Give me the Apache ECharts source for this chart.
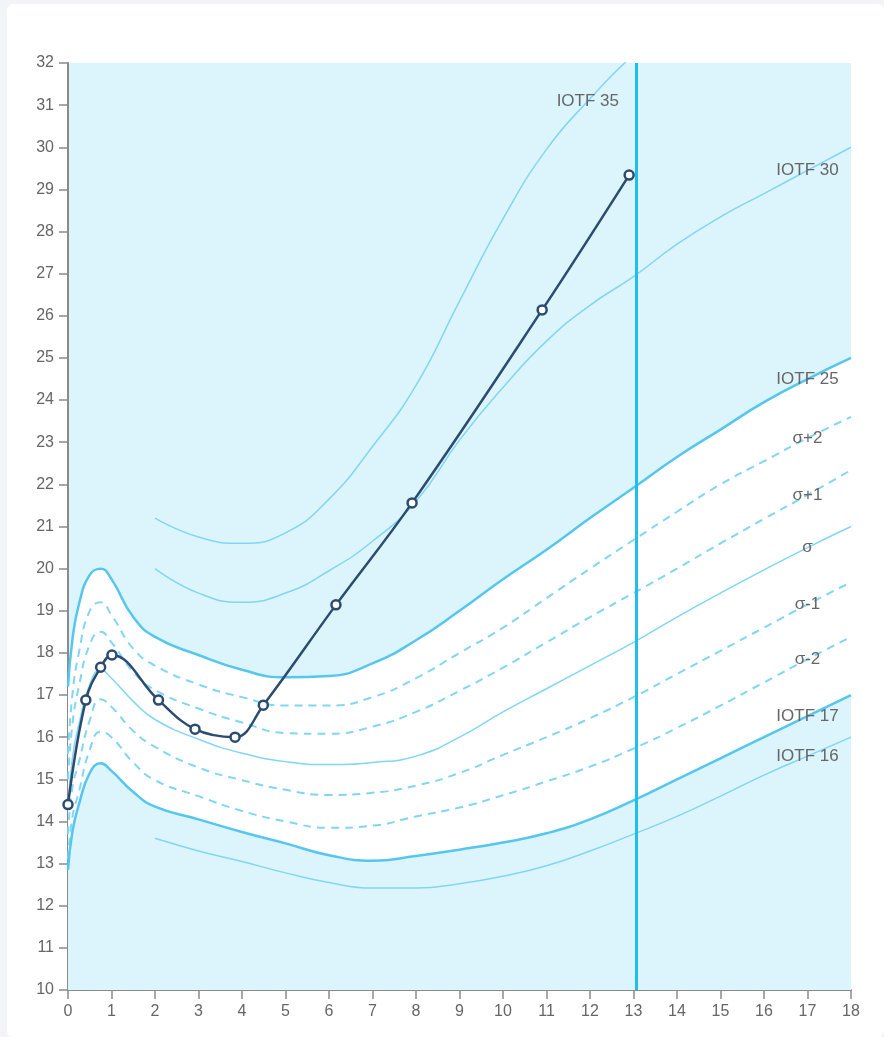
<!DOCTYPE html>
<html>
<head>
<meta charset="utf-8">
<title>IMC</title>
<script src="https://cdn.jsdelivr.net/npm/echarts@6/dist/echarts.min.js"></script>
<style>
  html, body { margin: 0; padding: 0; background: #f2f4f7; }
  .card { position: absolute; left: 7px; top: 4px; right: 0; bottom: 0; background: #fff; border-radius: 6px; }
  #chart { position: absolute; left: 0; top: 0; width: 884px; height: 1037px; }
</style>
</head>
<body>
<div class="card"></div>
<div id="chart"></div>
<script>
// ages (years) used by the reference curves
const fullAges = [0, 0.1, 0.25, 0.5, 0.75, 1, 1.5, 2, 3, 4, 5, 6, 7, 8, 9, 10, 11, 12, 13, 14, 15, 16, 17, 18];
const iotfAges = [2, 3, 4, 5, 6, 7, 8, 9, 10, 11, 12, 13, 14, 15, 16, 17, 18];

// IOTF cut-offs
const iotf35 = [21.2, 20.75, 20.6, 20.85, 21.65, 22.9, 24.35, 26.35, 28.3, 29.95, 31.15, 32.2, 33.1, 33.8, 34.35, 34.75, 35.0];
const iotf30 = [20.0, 19.42, 19.2, 19.42, 19.95, 20.65, 21.6, 23.05, 24.3, 25.4, 26.25, 26.93, 27.7, 28.35, 28.9, 29.45, 30.0];
const iotf25 = [17.2, 18.3, 19.15, 19.85, 20.0, 19.75, 18.85, 18.38, 17.95, 17.6, 17.42, 17.45, 17.75, 18.3, 19.0, 19.75, 20.45, 21.2, 21.92, 22.65, 23.3, 23.95, 24.5, 25.0];
const iotf17 = [12.85, 13.75, 14.4, 15.15, 15.38, 15.2, 14.7, 14.35, 14.05, 13.75, 13.48, 13.2, 13.07, 13.18, 13.33, 13.5, 13.72, 14.05, 14.5, 15.0, 15.5, 16.0, 16.5, 17.0];
const iotf16 = [13.6, 13.3, 13.05, 12.78, 12.55, 12.42, 12.42, 12.52, 12.7, 12.95, 13.3, 13.7, 14.12, 14.6, 15.1, 15.55, 16.0];

// reference curves (median and deviations)
const sigmaP2 = [15.6, 17.0, 18.0, 19.0, 19.2, 18.9, 18.1, 17.7, 17.25, 16.95, 16.75, 16.75, 16.95, 17.4, 18.0, 18.6, 19.3, 20.0, 20.68, 21.35, 22.0, 22.55, 23.1, 23.6];
const sigmaP1 = [15.0, 16.3, 17.2, 18.2, 18.5, 18.25, 17.55, 17.12, 16.68, 16.35, 16.1, 16.08, 16.25, 16.6, 17.1, 17.65, 18.25, 18.85, 19.42, 20.0, 20.6, 21.18, 21.75, 22.34];
const sigma0 = [14.3, 15.5, 16.3, 17.25, 17.6, 17.4, 16.85, 16.42, 15.95, 15.62, 15.42, 15.35, 15.4, 15.55, 16.0, 16.6, 17.15, 17.7, 18.25, 18.85, 19.42, 19.97, 20.5, 21.0];
const sigmaM1 = [13.7, 14.8, 15.4, 16.4, 16.9, 16.72, 16.15, 15.77, 15.28, 14.98, 14.75, 14.63, 14.68, 14.85, 15.15, 15.58, 16.0, 16.45, 16.95, 17.5, 18.05, 18.6, 19.15, 19.68];
const sigmaM2 = [13.1, 14.1, 14.7, 15.7, 16.13, 16.0, 15.4, 14.98, 14.6, 14.25, 14.0, 13.85, 13.9, 14.12, 14.33, 14.62, 14.95, 15.3, 15.73, 16.22, 16.75, 17.3, 17.85, 18.38];

// child's measurements
const childAges = [0, 0.41, 0.75, 1.01, 2.08, 2.92, 3.84, 4.49, 6.16, 7.91, 10.9, 12.9];
const childBmi = [14.4, 16.88, 17.66, 17.95, 16.88, 16.19, 16.0, 16.76, 19.14, 21.56, 26.14, 29.34];
const currentAge = 13.06;

const xTicks = { min: 0, max: 18, interval: 1 };
const yTicks = { min: 10, max: 32, interval: 1 };

const bandBg = "#dcf4fc";
const thick = "#55c6ee";
const thin = "#80d6f4";
const textGray = "#666";
const font = "Liberation Sans, Arial, sans-serif";

function pairs(ages, values) {
  return ages.map((a, i) => [a, values[i]]);
}

function valueAt(ages, values, age) {
  for (let i = 1; i < ages.length; i++) {
    if (age <= ages[i]) {
      const t = (age - ages[i - 1]) / (ages[i] - ages[i - 1]);
      return values[i - 1] + t * (values[i] - values[i - 1]);
    }
  }
  return values[values.length - 1];
}

const curves = [
  { name: "IOTF 35", ages: iotfAges, values: iotf35, color: thin, width: 1.5, dash: "solid", labelAge: 11.95 },
  { name: "IOTF 30", ages: iotfAges, values: iotf30, color: thin, width: 1.5, dash: "solid", labelAge: 17 },
  { name: "IOTF 25", ages: fullAges, values: iotf25, color: thick, width: 2.5, dash: "solid", labelAge: 17 },
  { name: "σ+2", ages: fullAges, values: sigmaP2, color: thin, width: 2, dash: [8, 6], labelAge: 17 },
  { name: "σ+1", ages: fullAges, values: sigmaP1, color: thin, width: 2, dash: [8, 6], labelAge: 17 },
  { name: "σ", ages: fullAges, values: sigma0, color: thin, width: 1.5, dash: "solid", labelAge: 17 },
  { name: "σ-1", ages: fullAges, values: sigmaM1, color: thin, width: 2, dash: [8, 6], labelAge: 17 },
  { name: "σ-2", ages: fullAges, values: sigmaM2, color: thin, width: 2, dash: [8, 6], labelAge: 17 },
  { name: "IOTF 17", ages: fullAges, values: iotf17, color: thick, width: 2.5, dash: "solid", labelAge: 17 },
  { name: "IOTF 16", ages: iotfAges, values: iotf16, color: thin, width: 1.5, dash: "solid", labelAge: 17 },
];

// white band between IOTF 25 and IOTF 17
const areaSeries = [
  { data: pairs(fullAges, iotf25), color: "#ffffff" },
  { data: pairs(fullAges, iotf17), color: bandBg },
].map((a) => ({
  type: "line",
  data: a.data,
  smooth: true,
  showSymbol: false,
  silent: true,
  z: 1,
  lineStyle: { width: 0 },
  areaStyle: { color: a.color, opacity: 1, origin: "start" },
}));

const curveSeries = curves.map((c) => ({
  name: c.name,
  type: "line",
  data: pairs(c.ages, c.values),
  smooth: true,
  showSymbol: false,
  silent: true,
  z: 2,
  lineStyle: { color: c.color, width: c.width, type: c.dash },
}));

const labelSeries = {
  type: "scatter",
  silent: true,
  symbolSize: 1,
  z: 10,
  itemStyle: { color: "rgba(0,0,0,0)", opacity: 1 },
  data: curves.map((c) => [c.labelAge, valueAt(c.ages, c.values, c.labelAge), c.name]),
  label: {
    show: true,
    position: "inside",
    formatter: (p) => p.data[2],
    color: textGray,
    fontSize: 17,
    fontFamily: font,
  },
  labelLayout: { hideOverlap: false },
};

const childSeries = {
  name: "IMC",
  type: "line",
  data: pairs(childAges, childBmi),
  smooth: 0.4,
  symbol: "circle",
  symbolSize: 9,
  itemStyle: { color: "#ffffff", borderColor: "#2b4c6f", borderWidth: 2.5 },
  lineStyle: { color: "#2b4c6f", width: 2.5 },
  z: 5,
  markLine: {
    silent: true,
    symbol: "none",
    label: { show: false },
    lineStyle: { color: "#1fbeed", width: 3, type: "solid" },
    data: [{ xAxis: currentAge }],
  },
};

const axisCommon = {
  type: "value",
  splitLine: { show: false },
  axisLine: { show: true, onZero: false, lineStyle: { color: "#8a8a8a", width: 2 } },
  axisTick: { show: true, length: 9, lineStyle: { color: "#8a8a8a", width: 1.5 } },
  axisLabel: { color: textGray, fontSize: 16, fontFamily: font, margin: 14 },
};

const chart = echarts.init(document.getElementById("chart"), null, { renderer: "canvas" });
chart.setOption({
  animation: false,
  backgroundColor: "transparent",
  grid: { left: 68, top: 63, right: 33, bottom: 47, show: true, backgroundColor: bandBg, borderWidth: 0 },
  xAxis: { ...axisCommon, ...xTicks },
  yAxis: { ...axisCommon, ...yTicks },
  series: [...areaSeries, ...curveSeries, labelSeries, childSeries],
});
</script>
</body>
</html>
